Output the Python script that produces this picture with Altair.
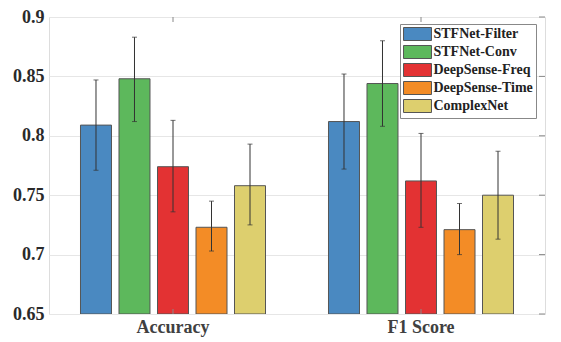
import altair as alt
import pandas as pd

metrics = ["Accuracy", "F1 Score"]
models = ["STFNet-Filter", "STFNet-Conv", "DeepSense-Freq", "DeepSense-Time", "ComplexNet"]
colors = ["#4a89c1", "#5db85c", "#e33233", "#f38c26", "#ddcf6e"]

acc_mean = [0.809, 0.848, 0.774, 0.723, 0.758]
acc_lo = [0.771, 0.812, 0.736, 0.703, 0.725]
acc_hi = [0.847, 0.883, 0.813, 0.745, 0.793]
f1_mean = [0.812, 0.844, 0.762, 0.721, 0.750]
f1_lo = [0.772, 0.808, 0.723, 0.700, 0.713]
f1_hi = [0.852, 0.880, 0.802, 0.743, 0.787]
y_ticks = [0.65, 0.7, 0.75, 0.8, 0.85, 0.9]
y_min, y_max = 0.65, 0.9

rows = []
for i, m in enumerate(models):
    rows.append({"metric": "Accuracy", "model": m, "mean": acc_mean[i], "lo": acc_lo[i], "hi": acc_hi[i], "base": y_min})
    rows.append({"metric": "F1 Score", "model": m, "mean": f1_mean[i], "lo": f1_lo[i], "hi": f1_hi[i], "base": y_min})
df = pd.DataFrame(rows)
tick_df = pd.DataFrame({"t": y_ticks})
metric_df = pd.DataFrame({"metric": metrics})

FONT = "Liberation Serif"
W, H = 496, 297

xs = alt.Scale(domain=metrics, paddingInner=0, paddingOuter=0)
xo = alt.Scale(domain=models, paddingInner=0.195, paddingOuter=0.818)
ys = alt.Scale(domain=[y_min, y_max], zero=False, nice=False)

x_enc = alt.X("metric:N", scale=xs, sort=metrics,
              axis=alt.Axis(title=None, labelAngle=0, labelFont=FONT, labelFontWeight="bold",
                            labelFontSize=18, labelColor="#404040", ticks=False, domain=False,
                            labelPadding=4))
y_enc = alt.Y("mean:Q", scale=ys,
              axis=alt.Axis(title=None, values=y_ticks, labelFont=FONT, labelFontWeight="bold",
                            labelFontSize=18, labelColor="#2a2a2a", ticks=False, domain=False,
                            grid=True, gridColor="#e6e6e6", labelPadding=5,
                            labelExpr="datum.value == 0.7 ? '0.7' : datum.value == 0.8 ? '0.8' : datum.value == 0.9 ? '0.9' : datum.label"))

bars = alt.Chart(df).mark_bar(stroke="#555555", strokeWidth=1, clip=True).encode(
    x=x_enc,
    xOffset=alt.XOffset("model:N", scale=xo, sort=models),
    y=y_enc,
    y2="base:Q",
    color=alt.Color("model:N", sort=models, scale=alt.Scale(domain=models, range=colors),
                    legend=alt.Legend(title=None, orient="none", legendX=351, legendY=7,
                                      labelFont=FONT, labelFontWeight="bold", labelFontSize=14,
                                      labelColor="#222222", strokeColor="#888888", fillColor="white",
                                      padding=3, rowPadding=0, labelOffset=9, symbolOffset=7.5,
                                      symbolType="M-2.15,-1L2.15,-1L2.15,1L-2.15,1Z",
                                      symbolSize=169, symbolStrokeColor="#555555",
                                      symbolStrokeWidth=1, symbolOpacity=1)),
)

err = alt.Chart(df).mark_rule(color="#333333", strokeWidth=1).encode(
    x=alt.X("metric:N", scale=xs, sort=metrics),
    xOffset=alt.XOffset("model:N", scale=xo, sort=models),
    y=alt.Y("lo:Q", scale=ys),
    y2="hi:Q",
)
cap_lo = alt.Chart(df).mark_tick(color="#333333", thickness=1, size=5, orient="horizontal").encode(
    x=alt.X("metric:N", scale=xs, sort=metrics),
    xOffset=alt.XOffset("model:N", scale=xo, sort=models),
    y=alt.Y("lo:Q", scale=ys),
)
cap_hi = alt.Chart(df).mark_tick(color="#333333", thickness=1, size=5, orient="horizontal").encode(
    x=alt.X("metric:N", scale=xs, sort=metrics),
    xOffset=alt.XOffset("model:N", scale=xo, sort=models),
    y=alt.Y("hi:Q", scale=ys),
)

rtick = alt.Chart(tick_df).mark_rule(color="#888888", strokeWidth=1).encode(
    y=alt.Y("t:Q", scale=ys), x=alt.value(W - 6), x2=alt.value(W),
)
ttop = alt.Chart(metric_df).mark_rule(color="#888888", strokeWidth=1).encode(
    x=alt.X("metric:N", scale=xs, sort=metrics), y=alt.value(0), y2=alt.value(5),
)
tbot = alt.Chart(metric_df).mark_rule(color="#888888", strokeWidth=1).encode(
    x=alt.X("metric:N", scale=xs, sort=metrics), y=alt.value(H - 5), y2=alt.value(H),
)

chart = alt.layer(bars, err, cap_lo, cap_hi, rtick, ttop, tbot).properties(
    width=W, height=H,
    autosize=alt.AutoSizeParams(type="none"),
    padding={"left": 41, "top": 9, "right": 8, "bottom": 25},
).configure_view(stroke="#8c8c8c", strokeWidth=1).configure(background="white")

chart.save("out.html", embed_options={"renderer": "svg", "actions": False})
